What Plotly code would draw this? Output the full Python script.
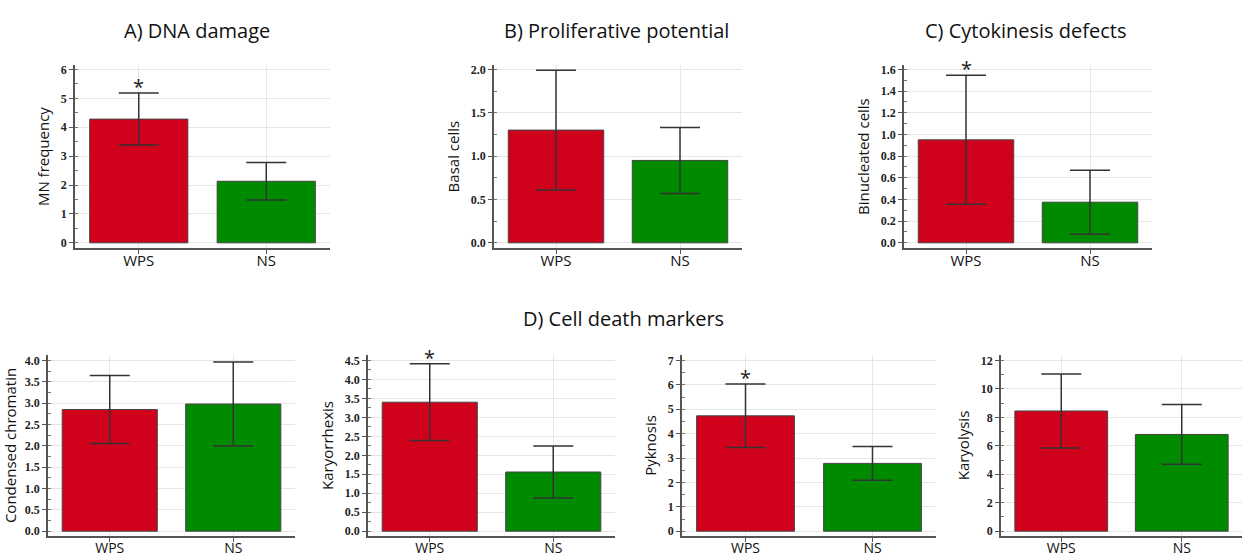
import plotly.graph_objects as go

groups = ["WPS", "NS"]

panels = [
    {"name": "MN frequency", "mean": [4.28, 2.13], "err": [0.90, 0.65], "ymax": 6, "dtick": 1, "fmt": "d", "sig": True},
    {"name": "Basal cells", "mean": [1.30, 0.95], "err": [0.69, 0.38], "ymax": 2.0, "dtick": 0.5, "fmt": ".1f", "sig": False},
    {"name": "Binucleated cells", "mean": [0.95, 0.375], "err": [0.595, 0.295], "ymax": 1.6, "dtick": 0.2, "fmt": ".1f", "sig": True},
    {"name": "Condensed chromatin", "mean": [2.85, 2.98], "err": [0.795, 0.985], "ymax": 4.0, "dtick": 0.5, "fmt": ".1f", "sig": False},
    {"name": "Karyorrhexis", "mean": [3.40, 1.56], "err": [1.01, 0.685], "ymax": 4.5, "dtick": 0.5, "fmt": ".1f", "sig": True},
    {"name": "Pyknosis", "mean": [4.73, 2.78], "err": [1.30, 0.69], "ymax": 7, "dtick": 1, "fmt": "d", "sig": True},
    {"name": "Karyolysis", "mean": [8.45, 6.80], "err": [2.60, 2.10], "ymax": 12, "dtick": 2, "fmt": "d", "sig": False},
]

titles = ["A) DNA damage", "B) Proliferative potential", "C) Cytokinesis defects", "D) Cell death markers"]

W, H = 1242, 557
# pixel layout of plot areas: (x0, x1, ytop, ybottom_axis, y_zero, y_max)
boxes = [
    (75, 330, 63, 247, 242, 67),
    (494, 742, 63, 247, 242, 67),
    (904, 1152, 63, 247, 242, 67),
    (48, 295, 355, 538, 533, 360.7),
    (368, 615, 355, 538, 533, 360.7),
    (682, 936, 355, 538, 533, 360.7),
    (1001, 1242, 355, 538, 533, 360.7),
]

colors = ["#D0021B", "#008A00"]
fig = go.Figure()
layout = {}
annotations = []

for i, (p, b) in enumerate(zip(panels, boxes)):
    x0, x1, yt, yb, y0, ym = b
    k = "" if i == 0 else str(i + 1)
    pxu = (y0 - ym) / p["ymax"]
    rng = [-(yb - y0) / pxu, p["ymax"] + (ym - yt) / pxu]
    fig.add_trace(go.Bar(
        x=groups, y=p["mean"], width=0.77,
        marker=dict(color=colors, line=dict(color="#444", width=1)),
        error_y=dict(type="data", array=p["err"], visible=True, color="#333", thickness=1.5, width=20),
        xaxis="x" + k, yaxis="y" + k, showlegend=False, hoverinfo="skip",
    ))
    layout["xaxis" + k] = dict(
        domain=[x0 / W, min(x1 / W, 1.0)], anchor="y" + k,
        range=[-0.5, 1.5], showgrid=True, gridcolor="#e6e6e6",
        showline=True, linecolor="#555", linewidth=1.5,
        ticks="outside", ticklen=4, tickcolor="#555",
        ticklabelstandoff=-6,
        tickfont=dict(family="Open Sans", size=15 if i < 3 else 14, color="#111"),
        fixedrange=True,
    )
    layout["yaxis" + k] = dict(
        domain=[1 - yb / H, 1 - yt / H], anchor="x" + k,
        range=rng, dtick=p["dtick"], tick0=0, tickformat=p["fmt"],
        showgrid=True, gridcolor="#e6e6e6", zeroline=False,
        showline=True, linecolor="#555", linewidth=1.5,
        ticks="outside", ticklen=4, tickcolor="#555",
        minor=dict(dtick=p["dtick"] / 2, ticks="inside", ticklen=3, tickcolor="#777", showgrid=False),
        tickfont=dict(family="Liberation Serif", size=12, color="#222", weight="bold"),
        title=dict(text=p["name"], font=dict(family="Open Sans", size=15, color="#111"), standoff=8),
        fixedrange=True,
    )
    if p["sig"]:
        annotations.append(dict(
            x="WPS", y=p["mean"][0] + p["err"][0], xref="x" + k, yref="y" + k,
            text="*", showarrow=False, yanchor="bottom", yshift=-9,
            font=dict(family="Open Sans", size=20, color="#222"),
        ))

title_pos = [(197, 28), (616, 28), (1026, 28), (623, 318)]
for t, (tx, ty) in zip(titles, title_pos):
    annotations.append(dict(
        x=tx / W, y=1 - ty / H, xref="paper", yref="paper", text=t, showarrow=False,
        xanchor="center", yanchor="middle",
        font=dict(family="Open Sans", size=20, color="#111"),
    ))

fig.update_layout(
    width=W, height=H, margin=dict(l=0, r=0, t=0, b=0),
    paper_bgcolor="white", plot_bgcolor="white",
    annotations=annotations, **layout,
)
fig.write_html("out.html", config={"displayModeBar": False},
               post_script="document.body.style.margin='0';document.body.style.overflow='hidden';")
